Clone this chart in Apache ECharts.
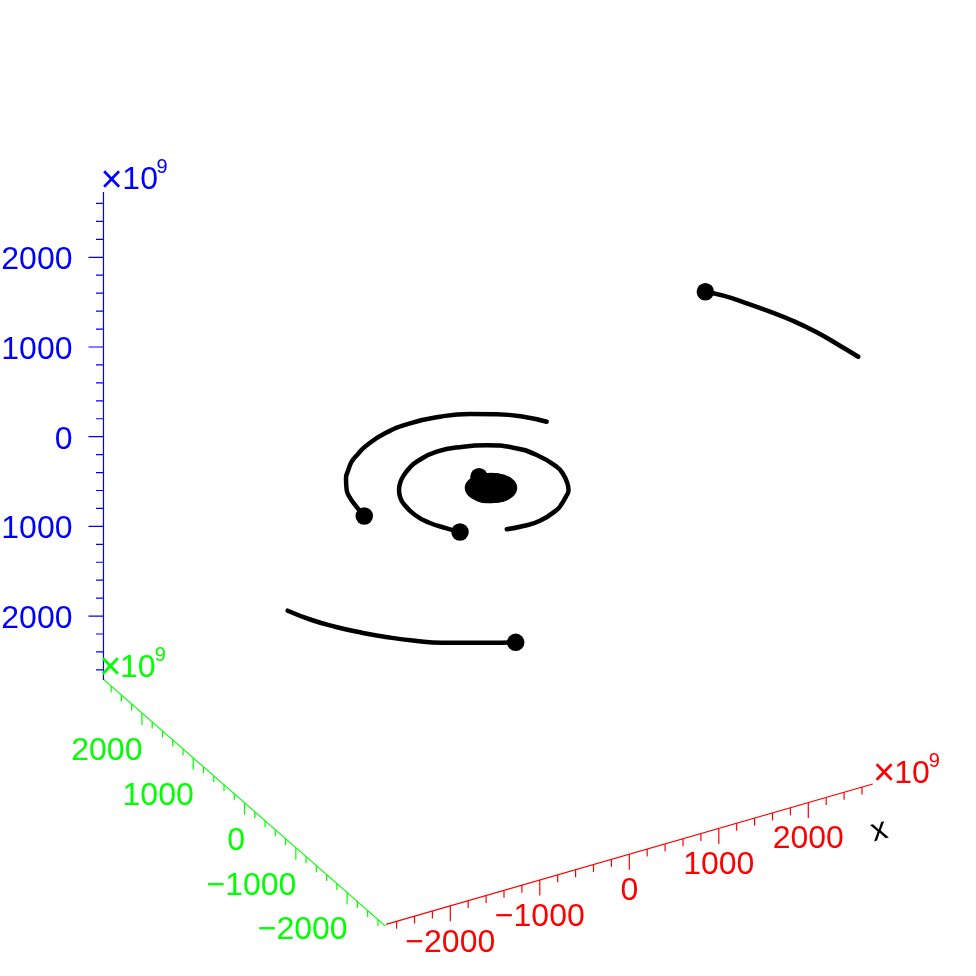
<!DOCTYPE html>
<html>
<head>
<meta charset="utf-8">
<style>html,body{margin:0;padding:0;background:#fff}#c{width:976px;height:976px}</style>
<script src="https://cdn.jsdelivr.net/npm/echarts@6/dist/echarts.min.js"></script>
</head>
<body>
<div id="c"></div>
<script>
// Orbit data, units of 10^9 (x, y in the orbital plane, z = 0)
const orbitAX = [-668,-744,-834,-883,-869,-833,-777,-688,-591,-478,-357,-92,179,389,590,716,772,755,702,648,562,463,356,113,-78,-249];
const orbitAY = [-592,-466,-296,-90,163,289,406,533,634,724,795,866,821,732,563,328,35,-118,-294,-412,-512,-607,-690,-789,-797,-772];
const orbitBX = [-1319,-1291,-1260,-1217,-1110,-1011,-903,-776,-647,-350,-44,271,549,771,972,1120];
const orbitBY = [138,368,528,659,859,986,1109,1208,1296,1424,1471,1437,1337,1203,1034,837];
const orbitCX = [3702,3815,3938,4053,4160,4248,4315,4363];
const orbitCY = [2249,2095,1855,1602,1334,1031,694,421];
const orbitDX = [-1259,-1380,-1605,-1885,-2090,-2282,-2461,-2628,-2759,-2872];
const orbitDY = [-2709,-2648,-2519,-2358,-2196,-2010,-1804,-1575,-1350,-1078];
const orbitMX = [23,140,225,253,217,128,8,-110,-194,-222,-186,-97,23];
const orbitMY = [243,213,127,4,-120,-214,-252,-222,-136,-13,112,205,243];
const orbitEX = [163,119,13,-93,-137,-93,13,119,163];
const orbitEY = [-8,98,142,98,-8,-114,-158,-114,-8];
const sunX = [0], sunY = [0];

// Axis ranges and ticks, units of 10^9
const xRange = [-2718, 2720];
const yRange = [-2748, 2748];
const zRange = [-2713, 2728];
const minorTicks = [-2600,-2400,-2200,-1800,-1600,-1400,-1200,-800,-600,-400,-200,200,400,600,800,1200,1400,1600,1800,2200,2400,2600];
const majorTicks = [-2000,-1000,0,1000,2000];
const tickLabels = ['\u22122000','\u22121000','0','1000','2000'];
const multiplierParts = ['\u00d7', '10', '9'];
const xName = 'x';

// Orthographic view: data (x, y, z) to the page plane
const view = {ox:489.4, oy:488.2, xx:0.0895, xy:-0.0258, yx:-0.0513, yy:-0.0449, zy:-0.0897};
function project(x, y, z) {
  return [view.ox + view.xx*x + view.yx*y, view.oy + view.xy*x + view.yy*y + view.zy*z];
}
const gap = ['-','-'];
const axisPoint = {
  x: v => project(v, -2727, -2715),
  y: v => project(-2736, v, -2720),
  z: v => project(-2749, 2727, v)
};
const ranges = {x:xRange, y:yRange, z:zRange};
function axisSeries(key, color, tickDX, tickDY, majorLen, minorLen) {
  const pts = [axisPoint[key](ranges[key][0]), axisPoint[key](ranges[key][1]), gap];
  const add = (v, len) => {
    const p = axisPoint[key](v);
    pts.push(p, [p[0] + tickDX*len, p[1] + tickDY*len], gap);
  };
  majorTicks.forEach(v => add(v, majorLen));
  minorTicks.forEach(v => add(v, minorLen));
  return {type:'line', data:pts, symbol:'none', silent:true, connectNulls:false, z:2,
    lineStyle:{color:color, width:1.2}};
}
function labelSeries(key, color, align, dx, dy) {
  return {type:'scatter', symbolSize:0, silent:true, z:3, itemStyle:{opacity:1},
    data: majorTicks.map((v,i) => ({value:axisPoint[key](v), name:tickLabels[i]})),
    label:{show:true, opacity:1, position:[0,0], align:align, verticalAlign:'middle', offset:[dx,dy],
      formatter:p => p.name, color:color, fontFamily:'Liberation Sans', fontSize:32}};
}
function multiplierSeries(key, color, offsets) {
  const sizes = [38, 32, 20];
  return {type:'scatter', symbolSize:0, silent:true, z:3, itemStyle:{opacity:1},
    data: multiplierParts.map((t,i) => ({
      value:axisPoint[key](ranges[key][1]), name:t,
      label:{show:true, opacity:1, position:[0,0], align:'center', verticalAlign:'middle', offset:offsets[i],
        formatter:p => p.name, color:color, fontFamily:'Liberation Sans', fontSize:sizes[i]}
    }))};
}
function orbitSeries(xs, ys, width) {
  return {type:'line', data:xs.map((x,i) => project(x, ys[i], 0)), symbol:'none', silent:true, z:4,
    smooth:0.5, lineStyle:{color:'#000', width:width, cap:'round', join:'round'}};
}
const bodies = [[orbitAX,orbitAY],[orbitBX,orbitBY],[orbitCX,orbitCY],[orbitDX,orbitDY],[orbitMX,orbitMY],[sunX,sunY]];

const chart = echarts.init(document.getElementById('c'), null, {renderer:'canvas'});
chart.setOption({
  animation:false,
  backgroundColor:'#fff',
  grid:{left:0, right:0, top:0, bottom:0},
  xAxis:{type:'value', min:0, max:976, show:false},
  yAxis:{type:'value', min:0, max:976, inverse:true, show:false},
  tooltip:{show:false},
  series:[
    axisSeries('x', '#ff0000', 0, 1, 15.5, 7.5),
    axisSeries('y', '#00ff00', 0, 1, 12, 6.5),
    axisSeries('z', '#0000ff', -1, 0, 15, 7.5),
    labelSeries('x', '#ff0000', 'center', 0, 37),
    labelSeries('y', '#00ff00', 'right', 0.5, 38),
    labelSeries('z', '#0000ff', 'right', -31, 3),
    multiplierSeries('x', '#ff0000', [[11.4,-9.3],[39.2,-10.3],[61.7,-22.3]]),
    multiplierSeries('y', '#00ff00', [[6.7,-10.7],[34.3,-11.7],[56.7,-23.7]]),
    multiplierSeries('z', '#0000ff', [[8.2,-10],[36.7,-12.3],[58.7,-24]]),
    {type:'scatter', symbolSize:0, silent:true, z:3, itemStyle:{opacity:1},
     data:[{value:axisPoint.x(xRange[1])}],
     label:{show:true, opacity:1, position:[0,0], align:'center', verticalAlign:'middle', offset:[-6,47], rotate:15,
       formatter:xName, color:'#000', fontFamily:'Liberation Sans', fontSize:32}},
    orbitSeries(orbitAX, orbitAY, 4.5),
    orbitSeries(orbitBX, orbitBY, 4.5),
    orbitSeries(orbitCX, orbitCY, 4.5),
    orbitSeries(orbitDX, orbitDY, 4.5),
    orbitSeries(orbitMX, orbitMY, 4.5),
    orbitSeries(orbitEX, orbitEY, 15),
    {type:'scatter', symbol:'circle', symbolSize:17.5, silent:true, z:5,
     itemStyle:{color:'#000', opacity:1},
     data:bodies.map(b => project(b[0][0], b[1][0], 0))}
  ]
});
</script>
</body>
</html>
